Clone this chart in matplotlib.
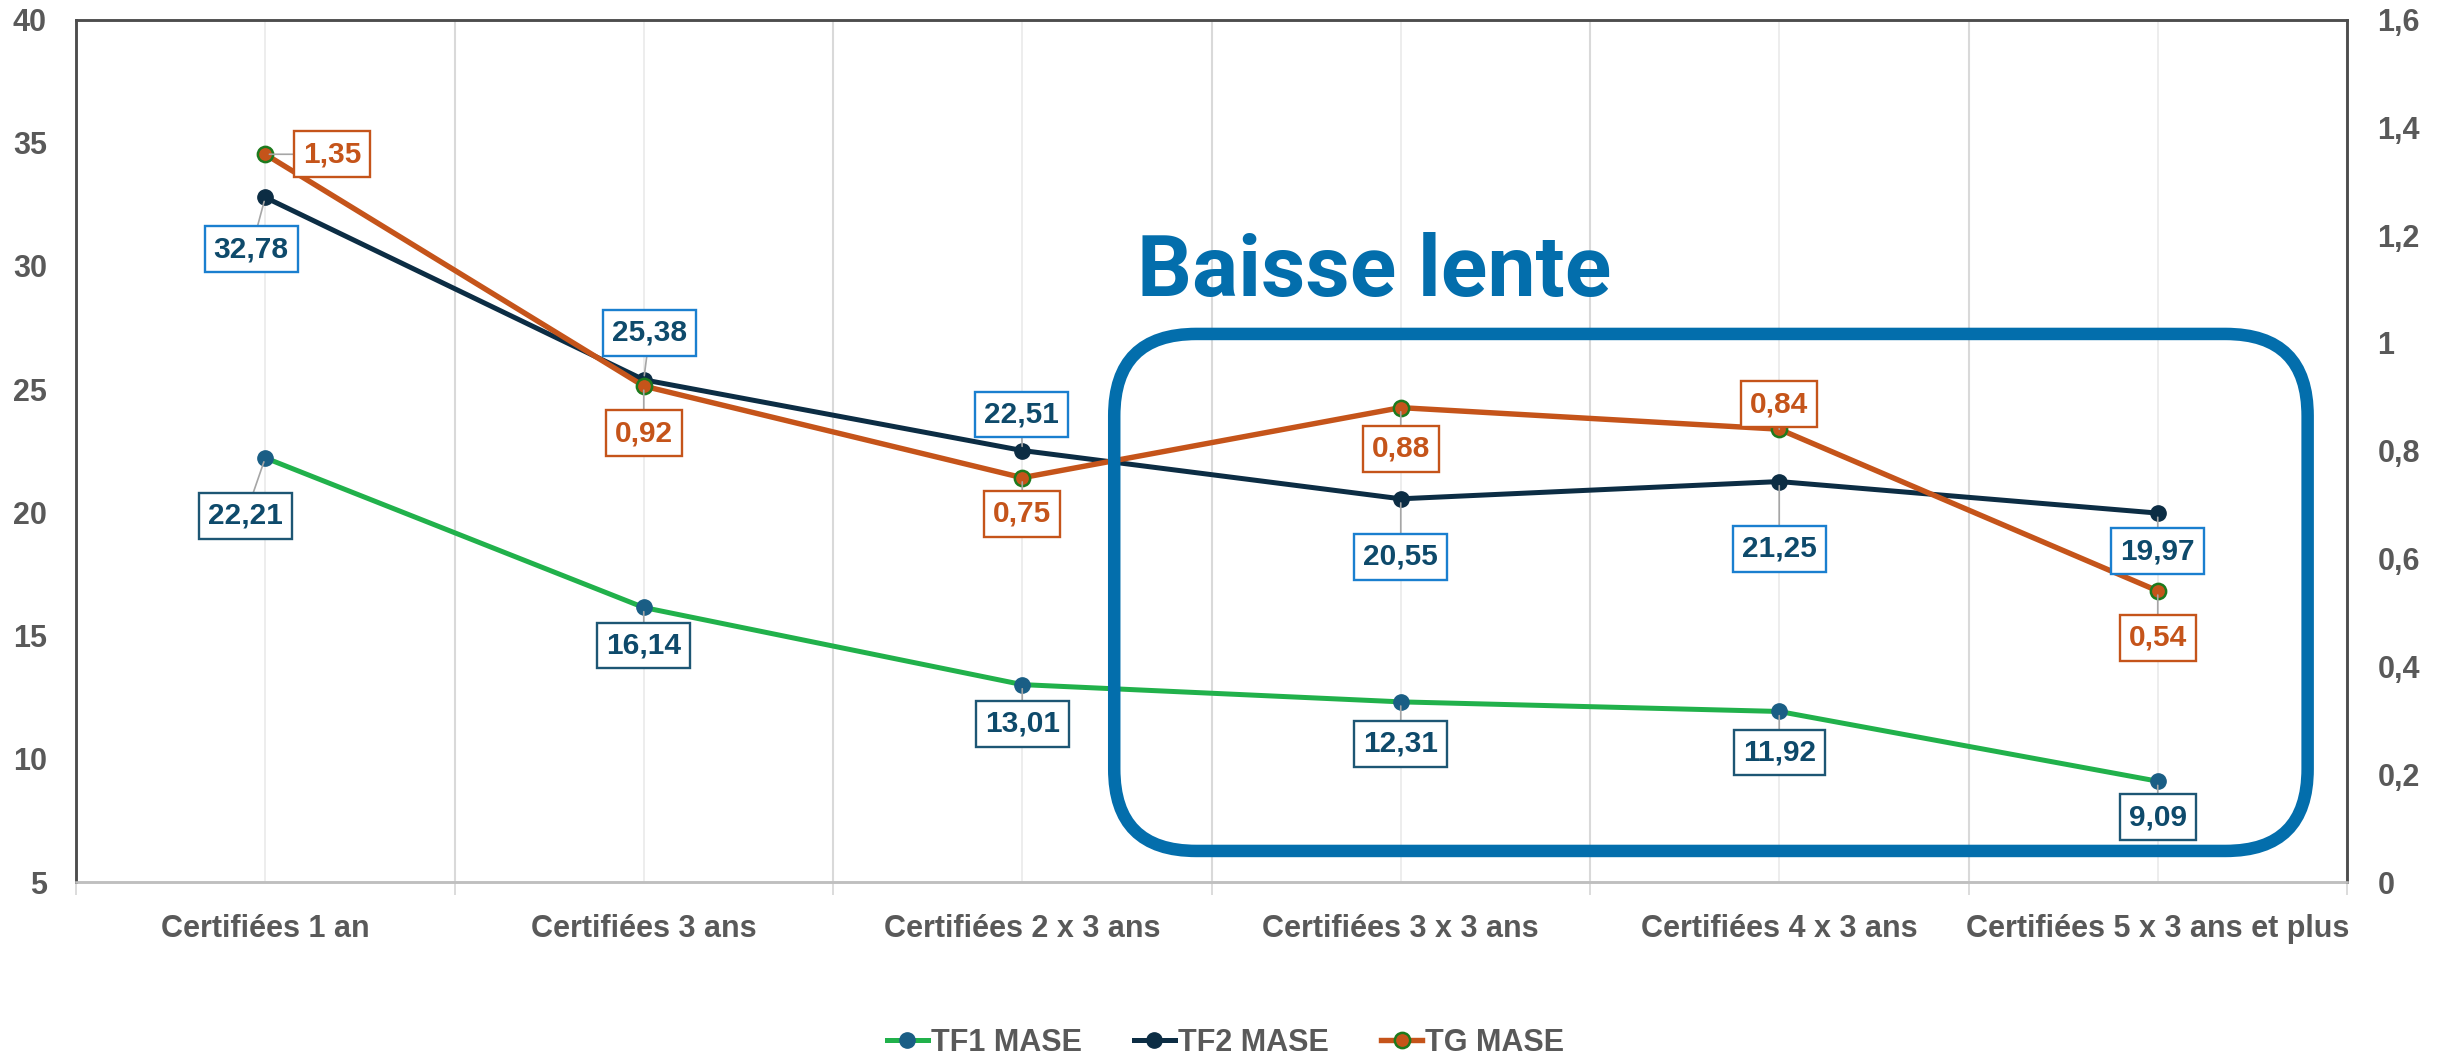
import matplotlib
matplotlib.use("Agg")
import matplotlib.pyplot as plt
from matplotlib.patches import FancyBboxPatch
from matplotlib.ticker import FuncFormatter, FixedLocator

plt.rcParams['font.family'] = ['Liberation Sans', 'DejaVu Sans']

categories = ["Certifiées 1 an", "Certifiées 3 ans", "Certifiées 2 x 3 ans",
              "Certifiées 3 x 3 ans", "Certifiées 4 x 3 ans", "Certifiées 5 x 3 ans et plus"]
tf1 = [22.21, 16.14, 13.01, 12.31, 11.92, 9.09]
tf2 = [32.78, 25.38, 22.51, 20.55, 21.25, 19.97]
tg = [1.35, 0.92, 0.75, 0.88, 0.84, 0.54]
left_ticks = [5, 10, 15, 20, 25, 30, 35, 40]
right_ticks = [0, 0.2, 0.4, 0.6, 0.8, 1.0, 1.2, 1.4, 1.6]
series_names = ["TF1 MASE", "TF2 MASE", "TG MASE"]
highlight_text = "Baisse lente"

# label offsets in pixels (dx, dy)
tf1_off = [(-20, -58), (0, -38), (0, -39), (0, -42), (0, -41), (0, -36)]
tf2_off = [(-14, -52), (6, 47), (-1, 36), (0, -58), (0, -67), (0, -38)]
tg_off = [(67, 0), (0, -47), (0, -36), (0, -41), (0, 25), (0, -47)]

C_GREEN = "#21b14b"
C_TF1M = "#1a5e85"
C_TF2 = "#0c2d44"
C_TG = "#c5541a"
C_TGEDGE = "#1d7a1d"
C_LBL = "#0e4a6b"
C_BLUE = "#036eac"
C_TXT = "#595959"

W, H = 2451, 1059
fig = plt.figure(figsize=(W / 100, H / 100), dpi=100)
ax = fig.add_axes([76 / W, 1 - 882 / H, (2347 - 76) / W, (882 - 19.5) / H])
ax2 = ax.twinx()

x = list(range(len(categories)))
ax.set_xlim(-0.5, len(categories) - 0.5)
ax.set_ylim(5, 40)
ax2.set_ylim(0, 1.6)

# grid
ax.set_xticks(x)
ax.set_xticklabels(categories, fontsize=22, fontweight='bold', color=C_TXT)
ax.xaxis.set_minor_locator(FixedLocator([i + 0.5 for i in range(-1, len(categories))]))
ax.grid(axis='x', which='major', color='#ececec', lw=1.3, zorder=0)
ax.grid(axis='x', which='minor', color='#d9d9d9', lw=1.5, zorder=0)
ax.tick_params(axis='x', which='major', length=0, pad=23)
ax.tick_params(axis='x', which='minor', length=9, width=1.3, color='#d9d9d9')

ax.set_yticks(left_ticks)
ax.yaxis.set_major_formatter(FuncFormatter(lambda v, p: f"{v:g}"))
ax.tick_params(axis='y', length=0, pad=21, labelsize=22, labelcolor=C_TXT)
for l in ax.get_yticklabels():
    l.set_fontweight('bold')
ax2.set_yticks(right_ticks)
ax2.yaxis.set_major_formatter(FuncFormatter(lambda v, p: f"{v:g}".replace('.', ',')))
ax2.tick_params(axis='y', length=0, pad=22, labelsize=22, labelcolor=C_TXT)
for l in ax2.get_yticklabels():
    l.set_fontweight('bold')

for a in (ax, ax2):
    for s in ('left', 'right', 'top'):
        a.spines[s].set_color('#4d4d4d')
        a.spines[s].set_linewidth(1.8)
    a.spines['bottom'].set_color('#bfbfbf')
    a.spines['bottom'].set_linewidth(1.8)

# lines
l1, = ax.plot(x, tf1, color=C_GREEN, lw=3.6, marker='o', ms=11,
              markerfacecolor=C_TF1M, markeredgecolor=C_TF1M, zorder=3)
l2, = ax.plot(x, tf2, color=C_TF2, lw=3.6, marker='o', ms=11,
              markerfacecolor=C_TF2, markeredgecolor=C_TF2, zorder=3)
l3, = ax2.plot(x, tg, color=C_TG, lw=3.9, marker='o', ms=11,
               markerfacecolor=C_TG, markeredgecolor=C_TGEDGE, markeredgewidth=1.8, zorder=3)


def fmt(v):
    return f"{v:.2f}".replace('.', ',')


def label(xv, yv, off, txtcol, edgecol, coords):
    ax2.annotate(fmt(yv), xy=(xv, yv), xycoords=coords,
                 xytext=off, textcoords='offset pixels',
                 ha='center', va='center', fontsize=21.5, fontweight='bold', color=txtcol,
                 bbox=dict(boxstyle='square,pad=0.3', fc='white', ec=edgecol, lw=1.7),
                 arrowprops=dict(arrowstyle='-', color='#a6a6a6', lw=1.2, shrinkA=0, shrinkB=3),
                 zorder=6)


for i in x:
    label(i, tf1[i], tf1_off[i], C_LBL, "#1d5674", ax.transData)
    label(i, tf2[i], tf2_off[i], C_LBL, "#1a7fcf", ax.transData)
    label(i, tg[i], tg_off[i], C_TG, C_TG, ax2.transData)

# highlight rounded box (in left-axis data coords)
px_per_x = (2347 - 76) / (len(categories))
px_per_y = (882 - 19.5) / 35
box_x0, box_x1 = 2.243, 5.396
box_y0, box_y1 = 6.26, 27.24
r = 82 / px_per_x
rect = FancyBboxPatch((box_x0, box_y0), box_x1 - box_x0, box_y1 - box_y0,
                      boxstyle=f"round,pad=0,rounding_size={r}",
                      mutation_aspect=px_per_x / px_per_y,
                      fc='none', ec=C_BLUE, lw=9, transform=ax.transData, zorder=7)
ax2.add_patch(rect)
ax2.text(2.93, 29.75, highlight_text, transform=ax.transData, ha='center', va='center',
         fontsize=62, fontweight='bold', color=C_BLUE, family=['Roboto', 'DejaVu Sans'], zorder=7)

# legend
handles = [l1, l2, l3]
leg = fig.legend(handles, series_names, loc='center', bbox_to_anchor=(0.5, 1 - 1043 / H),
                 ncol=3, frameon=False, handlelength=1.35, handletextpad=0.1,
                 columnspacing=1.7, prop=dict(size=22, weight='bold'))
for t in leg.get_texts():
    t.set_color(C_TXT)

fig.savefig("out.png", dpi=100)
